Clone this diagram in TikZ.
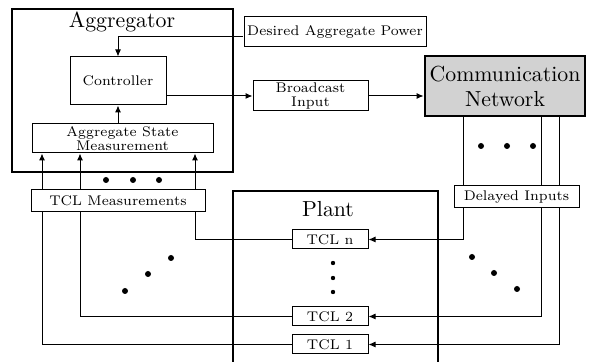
\documentclass[tikz,border=0pt]{standalone}
\usetikzlibrary{arrows.meta}
\begin{document}
\begin{tikzpicture}[x=0.5pt,y=-0.5pt,
  box/.style={draw,line width=0.5pt,fill=white,inner sep=0pt,align=center,
    font=\fontsize{7}{6.7}\selectfont},
  bigbox/.style={draw,line width=1.4pt,inner sep=0pt},
  big/.style={font=\fontsize{10.9}{12.5}\selectfont,inner sep=0pt,align=center},
  conn/.style={line width=0.5pt,-{Latex[length=3.5pt,width=3pt]}},
  wire/.style={line width=0.5pt},
  dot/.style={circle,fill,inner sep=0pt,minimum size=3pt},
  sdot/.style={circle,fill,inner sep=0pt,minimum size=2.2pt}]
\useasboundingbox (0,0) rectangle (589,362);
% Aggregator
\node[bigbox,minimum width=110.5pt,minimum height=81.5pt] (agg) at (122.5,90.5) {};
\node[big] (aggl) at (122,22) {Aggregator};
\node[box,minimum width=91pt,minimum height=15pt] (desired) at (335,32) {Desired Aggregate Power};
\node[box,minimum width=48pt,minimum height=24pt] (ctrl) at (118,81) {Controller};
\node[box,minimum width=57.5pt,minimum height=15pt] (bcast) at (310.5,96) {Broadcast\\Input};
\node[bigbox,fill=gray!35,minimum width=80pt,minimum height=30pt,big] (comm) at (505,86) {Communication\\Network};
\node[box,minimum width=90.5pt,minimum height=14.5pt] (asm) at (122.5,138.5) {Aggregate State\\Measurement};
% Plant
\coordinate (plnw) at (233,191);
\coordinate (plse) at (438,370);
\draw[line width=1.4pt] (plnw |- plse) |- (plnw -| plse) -- (plse);
\node[big] (plantl) at (328,209) {Plant};
\node[box,minimum width=38pt,minimum height=9.5pt] (tcln) at (330,239.5) {TCL n};
\node[box,minimum width=38pt,minimum height=9.5pt] (tcl2) at (330,316.5) {TCL 2};
\node[box,minimum width=38pt,minimum height=9.5pt] (tcl1) at (330,344.5) {TCL 1};
% connectors top
\coordinate (dsin) at (243,37);
\draw[conn] (dsin) -| (ctrl.north);
\draw[conn] (ctrl.east |- bcast.west) -- (bcast.west);
\draw[conn] (bcast.east) -- (bcast.east -| comm.west);
\draw[conn] (ctrl.south |- asm.north) -- (ctrl.south);
% measurement wires
\coordinate (m1) at (42,0);
\coordinate (m2) at (80,0);
\coordinate (m3) at (195,0);
\draw[conn] (tcl1.west) -| (m1 |- asm.south);
\draw[conn] (tcl2.west) -| (m2 |- asm.south);
\draw[conn] (tcln.west) -| (m3 |- asm.south);
% input wires
\coordinate (d1) at (559,0);
\coordinate (d2) at (541,0);
\coordinate (d3) at (463,0);
\draw[conn] (d1 |- comm.south) |- (tcl1.east);
\draw[conn] (d2 |- comm.south) |- (tcl2.east);
\draw[conn] (d3 |- comm.south) |- (tcln.east);
\node[box,minimum width=87pt,minimum height=11pt] (tclm) at (118,201) {TCL Measurements};
\node[box,minimum width=62.5pt,minimum height=11pt] (delayed) at (516.5,197) {Delayed Inputs};
% dots
\node[dot] (a1) at (106,180) {};
\node[dot] (a2) at (133,180) {};
\node[dot] (a3) at (159,180) {};
\node[dot] (b1) at (481,146) {};
\node[dot] (b2) at (507,146) {};
\node[dot] (b3) at (533,146) {};
\node[dot] (c1) at (171,258) {};
\node[dot] (c2) at (148,274) {};
\node[dot] (c3) at (125,291) {};
\node[dot] (e1) at (472,257) {};
\node[dot] (e2) at (494,273) {};
\node[dot] (e3) at (517,289) {};
\node[sdot] (f1) at (333,263) {};
\node[sdot] (f2) at (333,278) {};
\node[sdot] (f3) at (333,292) {};
\end{tikzpicture}
\end{document}
